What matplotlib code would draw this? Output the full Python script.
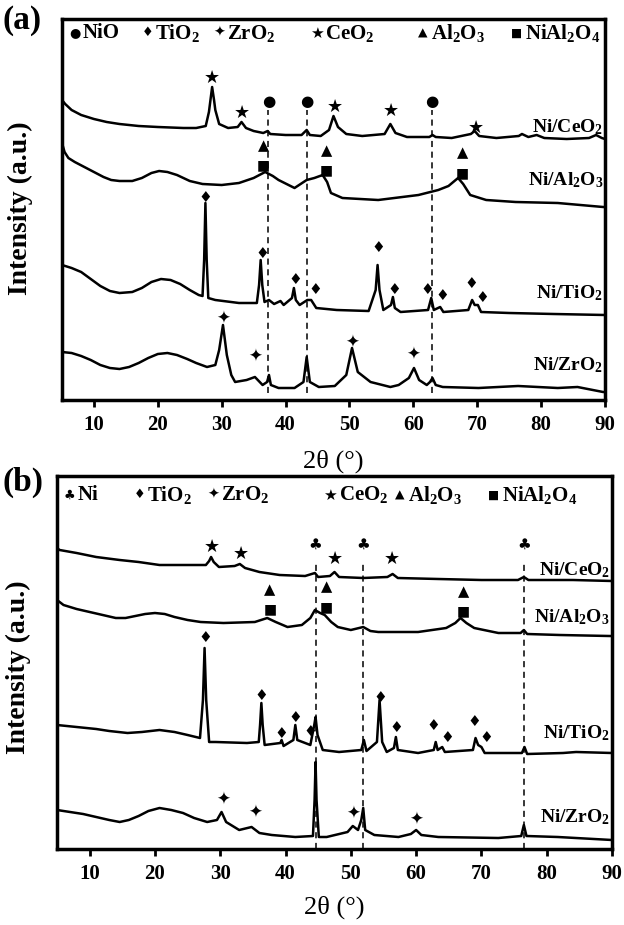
import numpy as np
import matplotlib.pyplot as plt

plt.rcParams['font.family'] = ['Liberation Serif', 'DejaVu Sans']
plt.rcParams['mathtext.fontset'] = 'custom'
plt.rcParams['mathtext.rm'] = 'Liberation Serif:bold'
plt.rcParams['mathtext.it'] = 'Liberation Serif:bold'
plt.rcParams['mathtext.bf'] = 'Liberation Serif:bold'

# ---------------- panel (a) : calcined catalysts ----------------
a_ce_x = [5.0, 5.5, 6.5, 8, 10, 12, 14, 17, 20, 24, 26, 27.5, 28.0, 28.2, 28.5, 28.8, 29.0, 29.6,
          31, 32.5, 33.1, 33.8, 35, 36.5, 37.2, 37.6, 40, 42.5, 43.3, 43.8, 45.5, 46.8, 47.5, 48.2,
          49.5, 52, 55.5, 56.4, 57.2, 59, 62.5, 63, 63.5, 66, 69, 69.6, 70.3, 73, 76.5, 77, 78,
          79.3, 80.5, 84, 87.5, 88.6, 89.5, 90]
a_ce_y = [300, 296, 290, 285, 281, 278, 276, 274, 273, 272, 272, 274, 288, 298, 313, 300, 290, 276,
          272, 273, 278, 272, 269, 267, 269, 266, 265, 265, 270, 265, 264, 270, 284, 273,
          266, 264, 266, 276, 267, 263, 263, 265, 263, 262, 266, 269, 264, 262, 264, 266, 263,
          265, 262, 261, 262, 265, 262, 261]

a_al_x = [5.0, 5.4, 6.0, 7, 8.5, 10, 11.5, 12.7, 14, 16, 17.5, 19, 20.2, 21.5, 23, 25, 27, 30,
          32.7, 35, 36.8, 38, 38.9, 41.4, 43.3, 44.5, 45.8, 46.5, 47.1, 48.9, 54.5, 60.8, 63.9,
          65.5, 67.0, 67.8, 68.9, 71.4, 76, 82.6, 89.7, 90]
a_al_y = [257, 248, 242, 238, 233, 228, 223, 220, 219, 219, 222, 227, 229, 228, 225, 219, 216, 215,
          217, 222, 228, 224, 220, 212, 220, 222, 225, 218, 207, 202, 200, 205, 210,
          214, 222, 216, 205, 200, 198, 197, 193, 193]

a_ti_x = [5.0, 6.5, 8, 9.5, 11, 12.5, 14, 16, 17.5, 19, 20.5, 22, 23.5, 25, 26.4, 27.0, 27.25,
          27.45, 27.65, 27.9, 29, 32.7, 35.5, 35.85, 36.1, 36.35, 36.7, 37.4, 38.2, 39.2, 39.7,
          41.0, 41.3, 41.6, 42.2, 43.4, 44.0, 44.8, 48, 53, 54.1, 54.4, 54.7, 55.3, 56.5, 56.8,
          57.1, 58, 62.3, 62.8, 63.2, 64.2, 64.7, 68.6, 69.2, 69.6, 70.1, 70.6, 75, 82, 90]
a_ti_y = [135, 132, 128, 121, 114, 109, 107, 108, 112, 118, 121, 120, 116, 110, 105, 104, 140,
          197, 140, 102, 100, 97, 97, 115, 140, 115, 98, 100, 96, 99, 95,
          102, 112, 100, 95, 100, 100, 92, 90, 89, 110, 135, 110, 90, 95, 103,
          92, 88, 90, 102, 90, 93, 88, 90, 100, 95, 95, 88, 87, 86, 85]

a_zr_x = [5.0, 6.5, 8, 9.5, 11, 12.5, 14, 15.5, 17, 18.5, 20, 21.5, 23, 24.6, 26, 27.7, 29.0,
          29.6, 30.2, 30.8, 31.5, 32.1, 33.9, 35.2, 36.4, 37.1, 37.4, 37.7, 38.9, 41.4, 42.8,
          43.3, 43.8, 45.2, 47.7, 49.5, 50.4, 51.3, 53.3, 56.4, 57.7, 59.3, 60.1, 60.9, 62.1,
          62.6, 63.0, 63.5, 64.6, 70.2, 76.4, 82.6, 85.7, 89.7, 90]
a_zr_y = [48, 47, 44, 40, 35, 32, 31, 33, 37, 42, 46, 47, 45, 41, 37, 33, 35,
          50, 75, 45, 25, 18, 20, 23, 15, 18, 25, 15, 12, 12, 18,
          43, 18, 13, 14, 25, 52, 28, 18, 13, 15, 22, 32, 20, 15,
          18, 22, 15, 13, 12, 14, 12, 13, 8, 8]

a_names = ['Ni/CeO$_2$', 'Ni/Al$_2$O$_3$', 'Ni/TiO$_2$', 'Ni/ZrO$_2$']
a_name_y = [273, 220, 107, 35]

a_nio_lines = [37.3, 43.3, 62.9]
a_marks = {
    '\u2605': ([28.5, 33.2, 47.7, 56.5, 69.8], [322, 287, 293, 289, 272]),
    '\u25cf': ([37.3, 43.3, 62.9], [298, 298, 298]),
    '\u25b2': ([36.5, 46.4, 67.7], [254, 249, 247]),
    '\u25a0': ([36.5, 46.4, 67.7], [235, 230, 227]),
    '\u2666': ([27.4, 36.3, 41.5, 44.6, 54.5, 57.0, 62.2, 64.5, 69.0, 70.8],
               [202, 147, 120, 111, 152, 111, 110, 104, 116, 103]),
    '\u2726': ([30.3, 35.2, 50.5, 60.0], [81, 43, 57, 45]),
}
a_leg_sym = ['\u25cf', '\u2666', '\u2726', '\u2605', '\u25b2', '\u25a0']
a_leg_txt = ['NiO', 'TiO$_2$', 'ZrO$_2$', 'CeO$_2$', 'Al$_2$O$_3$', 'NiAl$_2$O$_4$']
a_leg_x = [7.1, 18.4, 29.6, 45.0, 61.5, 76.2]

# ---------------- panel (b) : reduced catalysts ----------------
b_ce_x = [5.0, 5.4, 8, 11, 14.6, 17.5, 20.7, 25.6, 27.8, 28.3, 28.6, 29.0, 29.8, 32.2, 33.0, 33.8,
          36, 39.1, 43, 44.5, 45, 46.8, 47.5, 48.2, 51.9, 55.6, 56.4, 57.2, 63.4, 70, 75.6, 76.5,
          77.2, 84, 90]
b_ce_y = [301, 299, 296, 292, 289, 287, 284, 284, 284, 288, 292, 287, 282, 283, 285, 281,
          277, 274, 273, 276, 272, 273, 277, 272, 271, 272, 275, 271, 270, 269, 269, 272,
          269, 269, 268]

b_al_x = [5.0, 6, 8, 10, 12, 14, 15.5, 17, 18.5, 20, 21.5, 23, 25, 27, 30.5, 35.3, 37.2, 38.5,
          40.3, 42.5, 43.8, 44.5, 45.3, 46.0, 47.0, 48, 50.0, 51.9, 53, 54.2, 60.3, 64.6, 66.0,
          66.8, 67.7, 68.9, 72.6, 76.0, 76.5, 77, 82, 89.6, 90]
b_al_y = [249, 244, 240, 237, 234, 231, 231, 233, 235, 236, 235, 232, 229, 227, 226, 227, 231, 227,
          222, 224, 231, 239, 236, 234, 227, 222, 219, 222, 218, 217, 217, 221, 226,
          231, 226, 221, 216, 216, 219, 215, 214, 213, 213]

b_ti_x = [5.0, 8, 11, 13, 15.8, 18, 20.7, 23, 25.0, 26.9, 27.35, 27.6, 27.85, 28.3, 29.3, 34.1,
          35.9, 36.1, 36.3, 36.5, 36.8, 39.2, 39.4, 39.7, 41.2, 41.5, 41.8, 43.8, 44.4, 44.6,
          44.9, 45.7, 48.2, 51.6, 52.0, 52.4, 54.0, 54.4, 54.8, 55.5, 56.6, 56.9, 57.2, 60.3,
          62.7, 63.0, 63.3, 64.0, 64.4, 68.7, 69.1, 69.5, 70.0, 70.5, 76.2, 76.6, 77.0, 82.5,
          84.5, 90]
b_ti_y = [124, 122, 120, 118, 116, 117, 119, 117, 114, 111, 149, 201, 149, 107, 107, 106,
          107, 124, 146, 124, 104, 106, 109, 103, 109, 124, 109, 104, 124, 132,
          114, 99, 97, 99, 109, 98, 107, 149, 107, 97, 101, 112, 99, 96,
          99, 107, 99, 102, 97, 99, 111, 104, 102, 96, 96, 102, 95, 96,
          97, 96]

b_zr_x = [5.0, 7, 9, 11, 13, 14.6, 16, 17.5, 19, 20.7, 22.5, 24.3, 26, 28.0, 29.5, 30.2, 30.9,
          32.9, 34.8, 36, 37.9, 41.5, 44.2, 44.45, 44.6, 44.75, 45.1, 46.3, 49.5, 50.3, 51.1,
          51.6, 51.9, 52.2, 53.6, 57.3, 59.2, 60.0, 60.8, 63.4, 72.6, 76.1, 76.5, 76.9, 81.7, 90]
b_zr_y = [39, 37, 35, 32, 29, 27, 29, 33, 38, 41, 39, 36, 31, 27, 29, 37, 27,
          19, 22, 16, 14, 12, 13, 49, 87, 49, 12, 12, 17, 23, 19,
          29, 41, 19, 14, 12, 15, 19, 14, 12, 11, 13, 24, 13, 12, 9]

b_names = ['Ni/CeO$_2$', 'Ni/Al$_2$O$_3$', 'Ni/TiO$_2$', 'Ni/ZrO$_2$']
b_name_y = [279, 232, 116, 32]

b_ni_lines = [44.6, 51.9, 76.5]
b_marks = {
    '\u2605': ([28.7, 33.2, 47.6, 56.3], [302, 295, 290, 290]),
    '\u2663': ([44.6, 51.9, 76.5], [305, 305, 305]),
    '\u25b2': ([37.6, 46.3, 67.3], [259, 262, 257]),
    '\u25a0': ([37.6, 46.3, 67.3], [240, 242, 238]),
    '\u2666': ([27.7, 36.3, 39.4, 41.5, 43.8, 54.5, 56.9, 62.7, 64.7, 68.9, 70.8],
               [212, 154, 115, 131, 117, 152, 121, 123, 112, 127, 112]),
    '\u2726': ([30.4, 35.3, 50.3, 60.0], [49, 36, 35, 29]),
}
b_leg_sym = ['\u2663', '\u2666', '\u2726', '\u2605', '\u25b2', '\u25a0']
b_leg_txt = ['Ni', 'TiO$_2$', 'ZrO$_2$', 'CeO$_2$', 'Al$_2$O$_3$', 'NiAl$_2$O$_4$']
b_leg_x = [6.9, 17.6, 28.9, 47.0, 57.5, 71.9]

sym_size = {'\u2605': 13, '\u25cf': 11, '\u25b2': 10.5, '\u25a0': 10, '\u2666': 11,
            '\u2726': 12, '\u2663': 11}


def draw_panel(ax, curves, names, name_y, lines, line_top, line_bot, marks, leg_sym, leg_txt,
               leg_x, leg_y, ytop):
    for xs, ys in curves:
        ax.plot(xs, ys, color='black', lw=1.8, solid_joinstyle='round')
    for x in lines:
        ax.plot([x, x], [line_bot, line_top], color='black', lw=1.1, ls=(0, (4, 3)))
    for sym, (xs, ys) in marks.items():
        for x, y in zip(xs, ys):
            ax.text(x, y, sym, family='DejaVu Sans', fontsize=sym_size[sym],
                    ha='center', va='center')
    for name, y in zip(names, name_y):
        ax.text(89.7, y, name, fontsize=14, fontweight='bold', ha='right', va='center')
    for s, t, x in zip(leg_sym, leg_txt, leg_x):
        ax.text(x, leg_y, s, family='DejaVu Sans', fontsize=sym_size[s] * 0.85,
                ha='center', va='center')
        ax.text(x + 1.2, leg_y, t, fontsize=15, fontweight='bold', ha='left', va='center')
    ax.set_xlim(5, 90)
    ax.set_ylim(0, ytop)
    ax.set_xticks(range(10, 91, 10))
    ax.set_yticks([])
    ax.tick_params(axis='x', direction='out', length=5, width=2, labelsize=15, pad=6)
    for lab in ax.get_xticklabels():
        lab.set_fontweight('bold')
    for sp in ax.spines.values():
        sp.set_linewidth(2.5)


fig = plt.figure(figsize=(6.24, 9.25), dpi=100)
W, H = 624.0, 925.0
ax1 = fig.add_axes([62 / W, 1 - 400 / H, 543 / W, 381 / H])
ax2 = fig.add_axes([57 / W, 1 - 849 / H, 555 / W, 373 / H])

draw_panel(ax1, [(a_ce_x, a_ce_y), (a_al_x, a_al_y), (a_ti_x, a_ti_y), (a_zr_x, a_zr_y)],
           a_names, a_name_y, a_nio_lines, 290, 7, a_marks, a_leg_sym, a_leg_txt, a_leg_x, 367, 381)
draw_panel(ax2, [(b_ce_x, b_ce_y), (b_al_x, b_al_y), (b_ti_x, b_ti_y), (b_zr_x, b_zr_y)],
           b_names, b_name_y, b_ni_lines, 287, 0, b_marks, b_leg_sym, b_leg_txt, b_leg_x, 354, 373)

ax1.set_xlabel('2\u03b8 (\u00b0)', fontsize=19, labelpad=10)
ax2.set_xlabel('2\u03b8 (\u00b0)', fontsize=19, labelpad=8)

fig.text(3 / W, 1 - 20 / H, '(a)', fontsize=24, fontweight='bold', ha='left', va='center')
fig.text(3 / W, 1 - 482 / H, '(b)', fontsize=24, fontweight='bold', ha='left', va='center')
fig.text(20 / W, 1 - 208 / H, 'Intensity (a.u.)', fontsize=20, fontweight='bold',
         rotation=90, ha='center', va='center')
fig.text(18 / W, 1 - 667 / H, 'Intensity (a.u.)', fontsize=20, fontweight='bold',
         rotation=90, ha='center', va='center')

fig.savefig('out.png', dpi=100)
